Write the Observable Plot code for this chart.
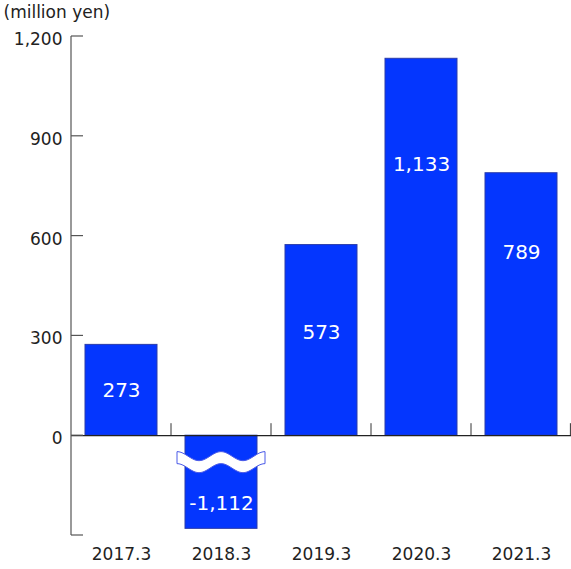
<!DOCTYPE html>
<html>
<head>
<meta charset="utf-8">
<script src="https://cdn.jsdelivr.net/npm/d3@7"></script>
<script src="https://cdn.jsdelivr.net/npm/@observablehq/plot@0.6"></script>
<style>
  html, body { margin: 0; padding: 0; background: #fff; }
</style>
</head>
<body>
<div id="chart"></div>
<script>
// ---- data ----
const categories = ["2017.3", "2018.3", "2019.3", "2020.3", "2021.3"];
const values = [273, -1112, 573, 1133, 789];
const valueLabels = ["273", "-1,112", "573", "1,133", "789"];
const labelAt = [135, -204, 309, 816, 549];     // label anchor (data units)
const yTicks = [-300, 0, 300, 600, 900, 1200];
const breakFloor = -280;                         // bars below the axis break are cut here
const breakAt = -81;                             // centre of the wavy break symbol
const unitLabel = "(million yen)";

const rows = categories.map((c, i) => ({
  cat: c,
  value: values[i],
  shown: Math.max(values[i], breakFloor),
  label: valueLabels[i],
  labelY: labelAt[i],
  broken: values[i] < breakFloor
}));

const W = 571, H = 569;
const mL = 71, mR = 0, mT = 36, mB = 34;

// custom decorations: axis line, inward ticks, category separators, break wave
function decorations(index, scales, values, dims) {
  const x = scales.x, y = scales.y;
  const step = x(categories[1]) - x(categories[0]);
  const bw = step * 0.72;
  const g = d3.create("svg:g");
  // y axis line
  g.append("line")
    .attr("x1", mL).attr("x2", mL)
    .attr("y1", y(yTicks[yTicks.length - 1])).attr("y2", y(yTicks[0]))
    .attr("stroke", "#555").attr("stroke-width", 1.2);
  // inward ticks
  for (const t of yTicks) {
    g.append("line")
      .attr("x1", mL).attr("x2", mL + 12)
      .attr("y1", y(t)).attr("y2", y(t))
      .attr("stroke", "#555").attr("stroke-width", 1.2);
  }
  // separators between categories
  for (const c of categories) {
    const bx = Math.min(x(c) + bw + (step - bw) / 2, dims.width - 0.6);
    g.append("line")
      .attr("x1", bx).attr("x2", bx)
      .attr("y1", y(0)).attr("y2", y(0) - 12)
      .attr("stroke", "#333").attr("stroke-width", 1);
  }
  // break wave
  for (const r of rows.filter(r => r.broken)) {
    const x0 = x(r.cat) - 8, x1 = x(r.cat) + bw + 8;
    const yc = y(breakAt);
    const A = 4.5, T = 6, P = (x1 - x0) / 2;
    const top = [], bot = [];
    for (let px = x0; px <= x1 + 0.01; px += 1) {
      const c = yc - A * Math.cos(2 * Math.PI * (px - x0) / P);
      top.push([px, c - T]);
      bot.push([px, c + T]);
    }
    const pts = top.concat(bot.reverse());
    g.append("path")
      .attr("d", "M" + pts.map(p => p.join(",")).join("L") + "Z")
      .attr("fill", "#fff").attr("stroke", "#4a5ae8").attr("stroke-width", 1);
  }
  return g.node();
}

const chart = Plot.plot({
  width: W, height: H,
  marginLeft: mL, marginRight: mR, marginTop: mT, marginBottom: mB,
  style: { fontFamily: "DejaVu Sans", fontSize: "17px", color: "#222", background: "#fff" },
  x: { domain: categories, paddingInner: 0.28, paddingOuter: 0.14, label: null },
  y: { domain: [yTicks[0], yTicks[yTicks.length - 1]], label: null },
  marks: [
    Plot.barY(rows, { x: "cat", y1: 0, y2: "shown", fill: "#0436fe", stroke: "#2a3caa", strokeWidth: 1 }),
    Plot.ruleY([0], { stroke: "#222", strokeWidth: 1.2 }),
    decorations,
    Plot.text(rows, { x: "cat", y: "labelY", text: "label", fill: "#fff", fontSize: 20 }),
    Plot.axisY({ ticks: yTicks, tickSize: 0, tickPadding: 9, dy: 3,
      tickFormat: d => d < 0 ? "" : d3.format(",")(d), fontSize: 17 }),
    Plot.axisX({ tickSize: 0, tickPadding: 12, fontSize: 17 }),
    Plot.text([unitLabel], { frameAnchor: "top-left", dx: -68, dy: -24, textAnchor: "start",
      lineAnchor: "middle", fontSize: 17, fill: "#222" })
  ]
});
document.getElementById("chart").appendChild(chart);
</script>
</body>
</html>
